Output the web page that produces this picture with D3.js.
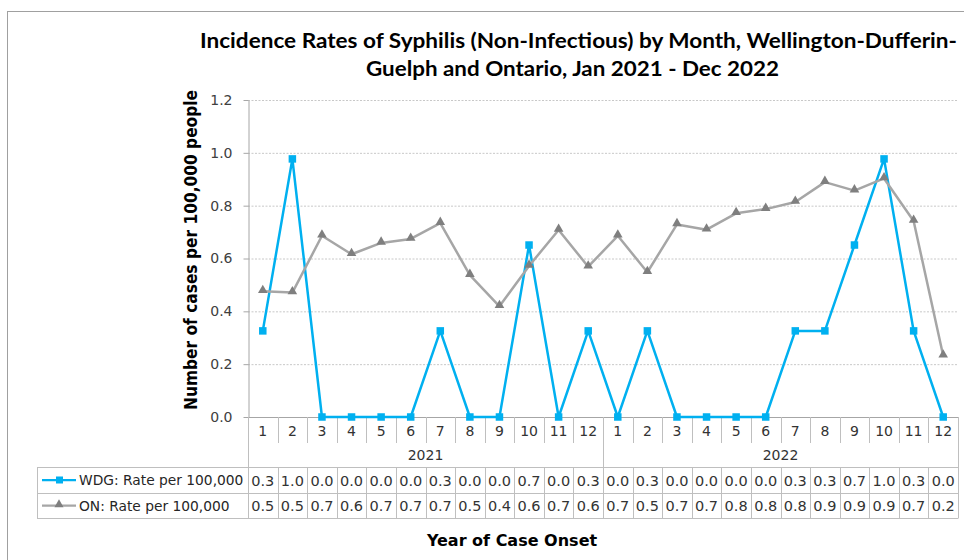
<!DOCTYPE html>
<html lang="en">
    <head>
        <meta charset="UTF-8">
        <title>Syphilis Incidence</title>
        <script src="https://d3js.org/d3.v7.min.js"></script>
        <style>
            body{
                margin: 0;
                background-color: white;
            }
            svg{
                display: block;
            }
        </style>
    </head>
    <body>
        <svg></svg>
        <script>
            // values
            const monthLabels = ["1","2","3","4","5","6","7","8","9","10","11","12",
                                 "1","2","3","4","5","6","7","8","9","10","11","12"];
            const yearLabels = ["2021", "2022"];
            const wdgRates = [0.326, 0.977, 0, 0, 0, 0, 0.326, 0, 0, 0.651, 0, 0.326,
                              0, 0.326, 0, 0, 0, 0, 0.326, 0.326, 0.651, 0.977, 0.326, 0];
            const onRates = [0.476, 0.471, 0.686, 0.616, 0.659, 0.674, 0.734, 0.537, 0.419, 0.572, 0.708, 0.569,
                             0.686, 0.548, 0.729, 0.709, 0.771, 0.787, 0.814, 0.889, 0.857, 0.903, 0.742, 0.232];
            const yTicks = [0, 0.2, 0.4, 0.6, 0.8, 1.0, 1.2];
            const seriesNames = ["WDG: Rate per 100,000", "ON: Rate per 100,000"];

            const w = 964;
            const h = 560;
            const plotLeft = 248, plotRight = 958, plotTop = 100, plotBottom = 417;
            const tableLeft = 37;
            const blue = "#00B0F0";
            const grayLine = "#A6A6A6";
            const grayMark = "#7F7F7F";
            const border = "#BFBFBF";
            const fmt = d3.format(".1f");

            const svg = d3.select("svg")
                          .attr("width", w)
                          .attr("height", h);

            // outer chart frame
            svg.append("rect")
               .attr("x", 7.5)
               .attr("y", 11.5)
               .attr("width", 1000)
               .attr("height", 600)
               .attr("fill", "white")
               .attr("stroke", "#A0A0A0")
               .attr("stroke-width", 1);

            const idx = d3.range(monthLabels.length);
            const xScale = d3.scaleBand()
                             .domain(idx)
                             .range([plotLeft, plotRight]);
            const bw = xScale.bandwidth();
            const cx = (i) => xScale(i) + bw / 2;

            const yScale = d3.scaleLinear()
                             .domain([0, 1.2])
                             .range([plotBottom, plotTop]);

            // gridlines
            svg.append("g")
               .attr("transform", "translate(" + plotLeft + ",0)")
               .call(d3.axisLeft(yScale).tickValues(yTicks.slice(1)).tickSize(-(plotRight - plotLeft)).tickFormat(""))
               .call(g => g.select(".domain").remove())
               .call(g => g.selectAll("line")
                           .attr("stroke", "#C8C8C8")
                           .attr("stroke-dasharray", "2,1.5"));

            // y axis
            const yAxis = d3.axisLeft(yScale)
                            .tickValues(yTicks)
                            .tickFormat(fmt)
                            .tickSize(5)
                            .tickSizeOuter(0)
                            .tickPadding(11);
            svg.append("g")
               .attr("id", "y-axis")
               .attr("transform", "translate(" + (plotLeft + 0.5) + ",0)")
               .call(yAxis)
               .call(g => g.select(".domain").attr("stroke", "#A6A6A6"))
               .call(g => g.selectAll("line").attr("stroke", "#A6A6A6"))
               .call(g => g.selectAll("text")
                           .attr("fill", "#404040")
                           .style("font-family", "'DejaVu Sans', sans-serif")
                           .style("font-size", "14px"));

            // category axis line
            svg.append("line")
               .attr("x1", plotLeft).attr("x2", plotRight)
               .attr("y1", plotBottom + 0.5).attr("y2", plotBottom + 0.5)
               .attr("stroke", "#A6A6A6");

            // vertical dividers (category row, year row, data table)
            const bounds = d3.range(monthLabels.length + 1).map(i => plotLeft + i * bw);
            svg.append("g")
               .selectAll("line")
               .data(bounds)
               .enter()
               .append("line")
               .attr("x1", d => Math.round(d) + 0.5)
               .attr("x2", d => Math.round(d) + 0.5)
               .attr("y1", plotBottom)
               .attr("y2", (d, i) => (i % 12 === 0) ? 518 : 443)
               .attr("stroke", border);
            svg.append("g")
               .selectAll("line")
               .data(bounds)
               .enter()
               .append("line")
               .attr("x1", d => Math.round(d) + 0.5)
               .attr("x2", d => Math.round(d) + 0.5)
               .attr("y1", 467)
               .attr("y2", 518)
               .attr("stroke", border);

            // table horizontal lines and left edge
            [467, 493, 518].forEach(yy => {
                svg.append("line")
                   .attr("x1", tableLeft).attr("x2", plotRight + 0.5)
                   .attr("y1", yy + 0.5).attr("y2", yy + 0.5)
                   .attr("stroke", border);
            });
            svg.append("line")
               .attr("x1", tableLeft + 0.5).attr("x2", tableLeft + 0.5)
               .attr("y1", 467).attr("y2", 518)
               .attr("stroke", border);

            const tableFont = "'DejaVu Sans', sans-serif";

            // month labels
            svg.append("g")
               .selectAll("text")
               .data(monthLabels)
               .enter()
               .append("text")
               .attr("x", (d, i) => cx(i))
               .attr("y", 436)
               .attr("text-anchor", "middle")
               .style("font-family", tableFont)
               .style("font-size", "14px")
               .attr("fill", "#333333")
               .text(d => d);

            // year labels
            svg.append("g")
               .selectAll("text")
               .data(yearLabels)
               .enter()
               .append("text")
               .attr("x", (d, i) => plotLeft + (i * 12 + 6) * bw)
               .attr("y", 460)
               .attr("text-anchor", "middle")
               .style("font-family", tableFont)
               .style("font-size", "14px")
               .attr("fill", "#333333")
               .text(d => d);

            // data table values
            [wdgRates, onRates].forEach((vals, r) => {
                svg.append("g")
                   .selectAll("text")
                   .data(vals)
                   .enter()
                   .append("text")
                   .attr("x", (d, i) => cx(i))
                   .attr("y", 485.5 + r * 25.5)
                   .attr("text-anchor", "middle")
                   .style("font-family", tableFont)
                   .style("font-size", "14.5px")
                   .attr("fill", "#333333")
                   .text(d => fmt(d));
            });

            // legend keys inside the table
            const tri = d3.symbol().type(d3.symbolTriangle);
            seriesNames.forEach((name, r) => {
                const yy = 480 + r * 25.5;
                svg.append("line")
                   .attr("x1", 42).attr("x2", 76)
                   .attr("y1", yy).attr("y2", yy)
                   .attr("stroke", r === 0 ? blue : grayLine)
                   .attr("stroke-width", 2.25);
                if (r === 0) {
                    svg.append("rect")
                       .attr("x", 56).attr("y", yy - 3.5)
                       .attr("width", 7).attr("height", 7)
                       .attr("fill", blue);
                } else {
                    svg.append("path")
                       .attr("d", tri.size(36)())
                       .attr("transform", "translate(59," + (yy - 1) + ")")
                       .attr("fill", grayMark);
                }
                svg.append("text")
                   .attr("x", 79)
                   .attr("y", yy + 5)
                   .style("font-family", tableFont)
                   .style("font-size", "13.8px")
                   .attr("fill", "#262626")
                   .text(name);
            });

            // series lines
            const line = d3.line()
                           .x((d, i) => cx(i))
                           .y(d => yScale(d));

            svg.append("path")
               .datum(wdgRates)
               .attr("d", line)
               .attr("fill", "none")
               .attr("stroke", blue)
               .attr("stroke-width", 2.5)
               .attr("stroke-linejoin", "round");
            svg.append("g")
               .selectAll("rect")
               .data(wdgRates)
               .enter()
               .append("rect")
               .attr("x", (d, i) => cx(i) - 3.75)
               .attr("y", d => yScale(d) - 3.75)
               .attr("width", 7.5)
               .attr("height", 7.5)
               .attr("fill", blue);

            svg.append("path")
               .datum(onRates)
               .attr("d", line)
               .attr("fill", "none")
               .attr("stroke", grayLine)
               .attr("stroke-width", 2.5)
               .attr("stroke-linejoin", "round");
            svg.append("g")
               .selectAll("path")
               .data(onRates)
               .enter()
               .append("path")
               .attr("d", tri.size(40)())
               .attr("transform", (d, i) => "translate(" + cx(i) + "," + (yScale(d) - 1) + ")")
               .attr("fill", grayMark);

            // titles
            const title = svg.append("g")
                             .style("font-family", "Lato, 'Open Sans', sans-serif")
                             .style("font-weight", "bold")
                             .style("font-size", "20px")
                             .attr("fill", "black");
            title.append("text")
                 .attr("x", 200)
                 .attr("y", 48)
                 .attr("textLength", 757)
                 .attr("lengthAdjust", "spacingAndGlyphs")
                 .text("Incidence Rates of Syphilis (Non-Infectious) by Month, Wellington-Dufferin-");
            title.append("text")
                 .attr("x", 366)
                 .attr("y", 76)
                 .attr("textLength", 413)
                 .attr("lengthAdjust", "spacingAndGlyphs")
                 .text("Guelph and Ontario, Jan 2021 - Dec 2022");

            svg.append("text")
               .attr("transform", "translate(197,250) rotate(-90)")
               .attr("text-anchor", "middle")
               .attr("textLength", 320)
               .attr("lengthAdjust", "spacingAndGlyphs")
               .style("font-family", "'DejaVu Sans Condensed', 'DejaVu Sans', sans-serif")
               .style("font-weight", "bold")
               .style("font-size", "18px")
               .text("Number of cases per 100,000 people");

            svg.append("text")
               .attr("x", 512)
               .attr("y", 546)
               .attr("text-anchor", "middle")
               .style("font-family", "'DejaVu Sans', sans-serif")
               .style("font-weight", "bold")
               .style("font-size", "16px")
               .text("Year of Case Onset");
        </script>
    </body>
</html>
